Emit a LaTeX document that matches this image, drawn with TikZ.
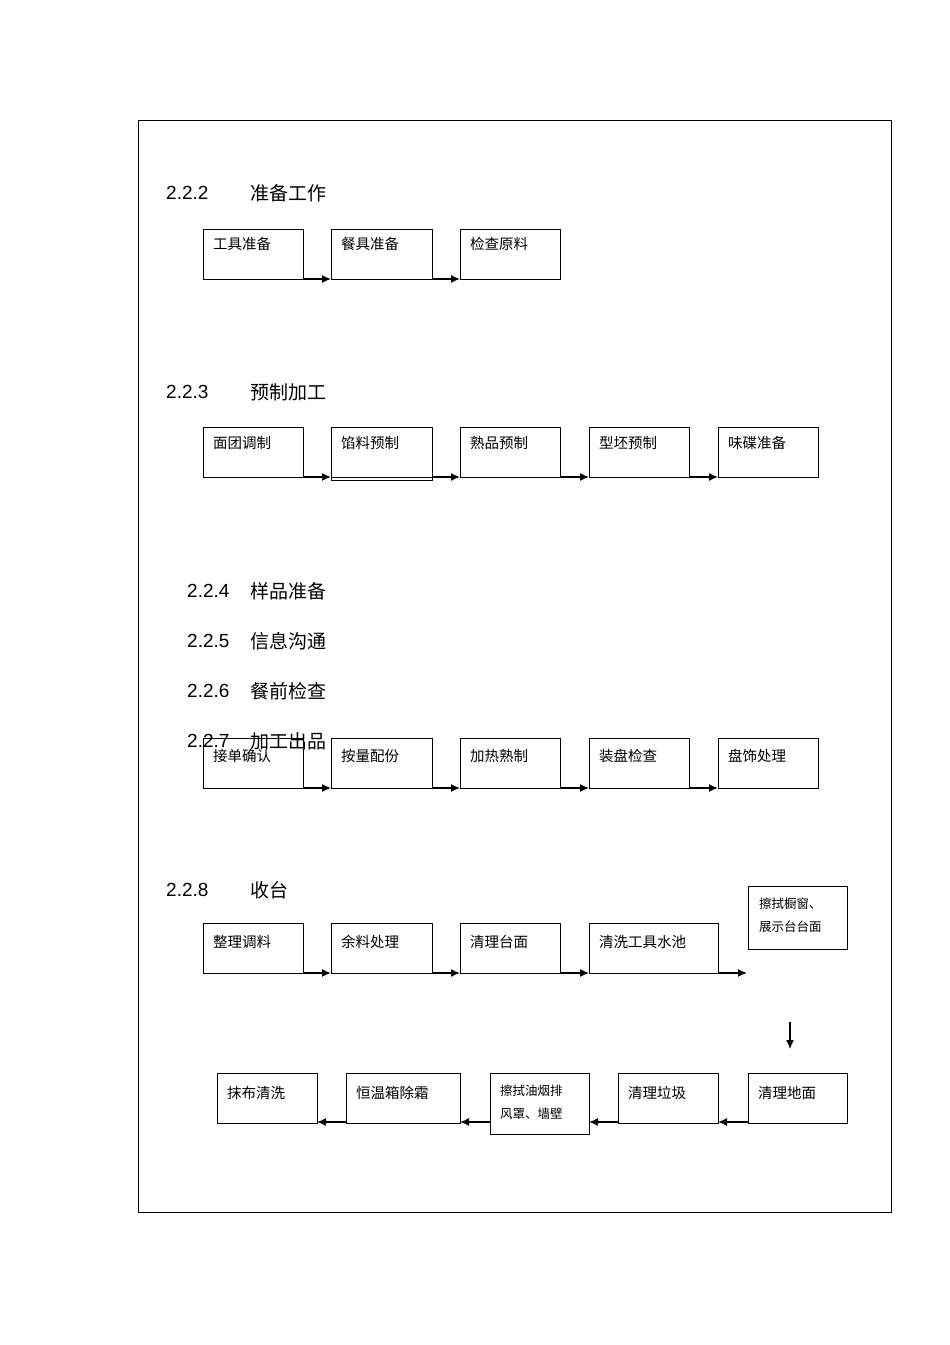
\documentclass[tikz,border=0pt]{standalone}
\usepackage{fontspec}
\setmainfont{Liberation Sans}
\newfontfamily\cjk{Noto Sans CJK SC}
\usetikzlibrary{arrows.meta}
\begin{document}
\begin{tikzpicture}[x=1pt,y=-1pt,
  bx/.style={draw,line width=0.9pt},
  lbl/.style={anchor=north west,inner sep=0pt,font=\cjk\fontsize{14.5}{17}\selectfont,align=left},
  hd/.style={anchor=west,inner sep=0pt,font=\fontsize{19}{22}\selectfont},
  hc/.style={anchor=west,inner sep=0pt,font=\cjk\fontsize{19}{22}\selectfont},
  ar/.style={line width=1.4pt,-{Latex[length=9pt,width=8pt]}}]
\useasboundingbox (0,0) rectangle (950,1345);
\draw[line width=0.8pt] (138,120) rectangle (891,1212);
% headings
\node[hd] (h2) at (166,193) {2.2.2}; \node[hc] (h2c) at (250,193) {准备工作};
\node[hd] (h3) at (166,392) {2.2.3}; \node[hc] (h3c) at (250,392) {预制加工};
\node[hd] (h4) at (187,591) {2.2.4}; \node[hc] (h4c) at (250,591) {样品准备};
\node[hd] (h5) at (187,641) {2.2.5}; \node[hc] (h5c) at (250,641) {信息沟通};
\node[hd] (h6) at (187,691) {2.2.6}; \node[hc] (h6c) at (250,691) {餐前检查};
\node[hd] (h7) at (187,741) {2.2.7}; \node[hc] (h7c) at (250,741) {加工出品};
\node[hd] (h8) at (166,890) {2.2.8}; \node[hc] (h8c) at (250,890) {收台};
% row 2.2.2
\foreach \n/\xa/\xb/\t in {a1/203/303/工具准备,a2/331/432/餐具准备,a3/460/560/检查原料}{
  \draw[bx] (\xa,229) rectangle (\xb,279);
  \node[lbl] (\n) at (\xa+10,237) {\t};
  \coordinate (\n l) at (\xa,279); \coordinate (\n r) at (\xb,279);}
\draw[ar] (a1r) -- (a2l); \draw[ar] (a2r) -- (a3l);
% row 2.2.3
\foreach \n/\xa/\xb/\t in {b1/203/303/面团调制,b2/331/432/馅料预制,b3/460/560/熟品预制,b4/589/689/型坯预制,b5/718/818/味碟准备}{
  \draw[bx] (\xa,427) rectangle (\xb,477);
  \node[lbl] (\n) at (\xa+10,436) {\t};
  \coordinate (\n l) at (\xa,477); \coordinate (\n r) at (\xb,477);}
\draw[bx] (331,477) -- (331,480) -- (432,480) -- (432,477);
\draw[ar] (b1r) -- (b2l); \draw[ar] (b2r) -- (b3l); \draw[ar] (b3r) -- (b4l); \draw[ar] (b4r) -- (b5l);
% row 2.2.7
\foreach \n/\xa/\xb/\t in {c1/203/303/接单确认,c2/331/432/按量配份,c3/460/560/加热熟制,c4/589/689/装盘检查,c5/718/818/盘饰处理}{
  \draw[bx] (\xa,738) rectangle (\xb,788);
  \node[lbl] (\n) at (\xa+10,749) {\t};
  \coordinate (\n l) at (\xa,788); \coordinate (\n r) at (\xb,788);}
\draw[ar] (c1r) -- (c2l); \draw[ar] (c2r) -- (c3l); \draw[ar] (c3r) -- (c4l); \draw[ar] (c4r) -- (c5l);
% row 2.2.8 top
\foreach \n/\xa/\xb/\t in {d1/203/303/整理调料,d2/331/432/余料处理,d3/460/560/清理台面,d4/589/718/清洗工具水池}{
  \draw[bx] (\xa,923) rectangle (\xb,973);
  \node[lbl] (\n) at (\xa+10,935) {\t};
  \coordinate (\n l) at (\xa,973); \coordinate (\n r) at (\xb,973);}
\draw[bx] (748,886) rectangle (847,949);
\node[lbl,font=\cjk\fontsize{12.5}{23}\selectfont] (d5) at (759,898) {擦拭橱窗、\\展示台台面};
\coordinate (d5l) at (747,973);
\draw[ar] (d1r) -- (d2l); \draw[ar] (d2r) -- (d3l); \draw[ar] (d3r) -- (d4l); \draw[ar] (d4r) -- (d5l);
\coordinate (v1) at (790,1022); \coordinate (v2) at (790,1049);
\draw[line width=1.2pt,-{Latex[length=9pt,width=8pt]}] (v1) -- (v2);
% bottom row
\foreach \n/\xa/\xb/\t in {e1/217/317/抹布清洗,e2/346/460/恒温箱除霜,e4/618/718/清理垃圾,e5/748/847/清理地面}{
  \draw[bx] (\xa,1073) rectangle (\xb,1123);
  \node[lbl] (\n) at (\xa+10,1086) {\t};
  \coordinate (\n l) at (\xa,1122); \coordinate (\n r) at (\xb,1122);}
\draw[bx] (490,1073) rectangle (589,1134);
\node[lbl,font=\cjk\fontsize{12.5}{23}\selectfont] (e3) at (500,1085) {擦拭油烟排\\风罩、墙壁};
\coordinate (e3l) at (490,1122); \coordinate (e3r) at (589,1122);
\draw[ar] (e5l) -- (e4r); \draw[ar] (e4l) -- (e3r); \draw[ar] (e3l) -- (e2r); \draw[ar] (e2l) -- (e1r);
\end{tikzpicture}
\end{document}
